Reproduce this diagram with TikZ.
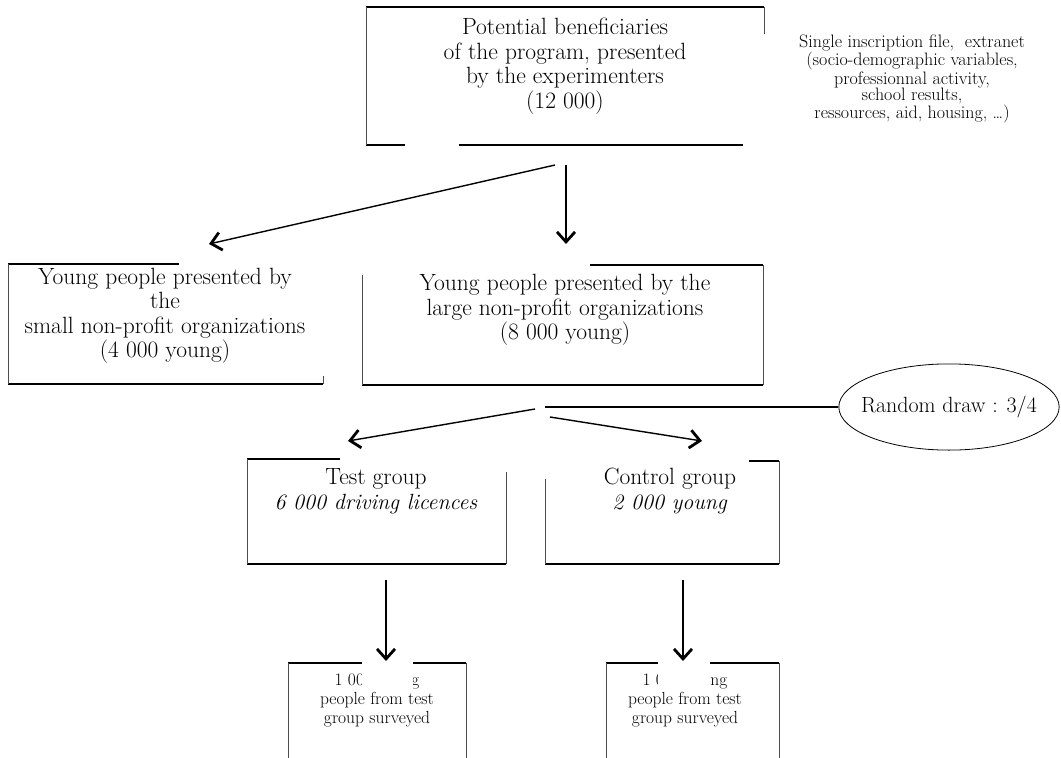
\documentclass[tikz,border=0pt]{standalone}
\usetikzlibrary{arrows.meta,shapes.geometric}
\begin{document}
\begin{tikzpicture}[x=1pt,y=-1pt,
  txt/.style={align=center,font=\fontsize{23.5}{24.5}\selectfont,inner sep=0pt},
  note/.style={align=center,font=\fontsize{18}{16.3}\selectfont,inner sep=0pt},
  smalltxt/.style={align=center,font=\fontsize{17.5}{19}\selectfont,inner sep=0pt},
  hline/.style={line width=1.3pt},
  vline/.style={line width=0.6pt,black!70},
  arr/.style={line width=1.4pt,-{Straight Barb[length=10pt,width=18pt,line width=2.8pt]}},
  occl/.style={fill=white,draw=none},
  drawellipse/.style={draw,line width=0.8pt,ellipse,inner xsep=-10pt,inner ysep=19.5pt,font=\fontsize{22}{24}\selectfont},
]
\useasboundingbox (0,0) rectangle (1061,758);

% ---------- text nodes ----------
\node[txt] (top) at (565,66) {Potential beneficiaries\\of the program, presented\\by the experimenters\\(12 000)};
\node[note] (note) at (912,79) {Single inscription file,\ \ extranet\\(socio-demographic variables,\\professionnal activity,\\school results,\\ressources, aid, housing, \ldots)};
\node[txt] (small) at (165,316) {Young people presented by\\the\\small non-profit organizations\\(4 000 young)};
\node[txt] (large) at (565,310) {Young people presented by the\\large non-profit organizations\\(8 000 young)};
\node[drawellipse] (rand) at (949,407) {Random draw : 3/4};
\node[txt] (test) at (376,491) {Test group\\\textit{\fontsize{22}{24.5}\selectfont 6 000 driving licences}};
\node[txt] (ctrl) at (670,491) {Control group\\\textit{\fontsize{22}{24.5}\selectfont 2 000 young}};
\node[smalltxt] (s1) at (377,700) {1 000 young\\people from test\\group surveyed};
\node[smalltxt] (s2) at (685,700) {1 000 young\\people from test\\group surveyed};

% ---------- box borders (partly hidden) ----------
% top box
\draw[hline] (366,7) -- (764,7);
\draw[hline] (366,145) -- (405,145) (459,145) -- (743,145);
\draw[vline] (366,7) -- (366,145);
\draw[vline] (764,7) -- (764,34);
% small box
\draw[hline] (8,264) -- (179,264);
\draw[hline] (8,384) -- (323,384);
\draw[vline] (8,264) -- (8,384);
\draw[vline] (323,376) -- (323,384);
% large box
\draw[hline] (590,265) -- (763,265);
\draw[hline] (362,385) -- (763,385);
\draw[vline] (362,275) -- (362,385);
\draw[vline] (763,265) -- (763,385);
% test box
\draw[hline] (247,459) -- (340,459);
\draw[hline] (247,564) -- (506,564);
\draw[vline] (247,459) -- (247,564);
\draw[vline] (506,472) -- (506,564);
% control box
\draw[hline] (749,461) -- (779,461);
\draw[hline] (545,564) -- (779,564);
\draw[vline] (545,479) -- (545,564);
\draw[vline] (779,461) -- (779,564);
% survey boxes
\draw[hline] (288,663) -- (466,663);
\draw[vline] (288,663) -- (288,758) (466,663) -- (466,758);
\draw[hline] (606,663) -- (779,663);
\draw[vline] (606,663) -- (606,758) (779,663) -- (779,758);

% white areas that hide parts of the survey boxes
\fill[occl] (362,645) rectangle (413,689);
\fill[occl] (658,645) rectangle (710,689);

% ---------- connectors ----------
\coordinate (a0) at (555,165);
\coordinate (a1) at (209,244);
\coordinate (v0) at (566,165);
\coordinate (v1) at (566,244);
\coordinate (h0) at (545,407);
\coordinate (b0) at (535,409);
\coordinate (b1) at (348,441);
\coordinate (c0) at (550,417);
\coordinate (c1) at (702,441);
\coordinate (d0) at (386,580);
\coordinate (d1) at (386,661);
\coordinate (e0) at (683,580);
\coordinate (e1) at (683,661);

\draw[arr] (a0) -- (a1);
\draw[arr] (v0) -- (v1);
\draw[line width=1.3pt] (h0) -- (rand.west);
\draw[arr] (b0) -- (b1);
\draw[arr] (c0) -- (c1);
\draw[arr] (d0) -- (d1);
\draw[arr] (e0) -- (e1);
\end{tikzpicture}
\end{document}
